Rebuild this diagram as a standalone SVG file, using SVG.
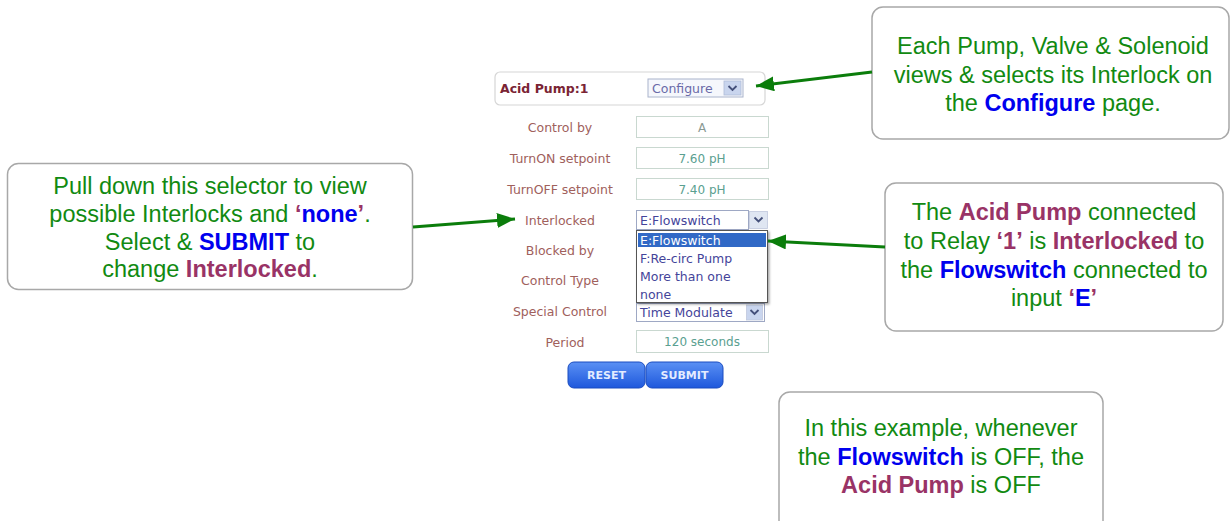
<svg xmlns="http://www.w3.org/2000/svg" width="1232" height="521" viewBox="0 0 1232 521">
  <style>
    .note { fill: #ffffff; stroke: #a8a8a8; stroke-width: 1.5; }
    .nt { font-family: "Liberation Sans", Arial, sans-serif; font-size: 23.5px; fill: #118a11; text-anchor: middle; }
    .b { font-weight: bold; fill: #0000ee; }
    .m { font-weight: bold; fill: #993366; }
    .lbl { font-family: "DejaVu Sans", Verdana, sans-serif; font-size: 12.5px; fill: #a0605c; text-anchor: middle; }
    .fld { fill: #ffffff; stroke: #c9d8d0; stroke-width: 1; }
    .val { font-family: "DejaVu Sans", Verdana, sans-serif; font-size: 12px; fill: #5aa090; text-anchor: middle; }
    .opt { font-family: "DejaVu Sans", Verdana, sans-serif; font-size: 12.5px; fill: #44449a; }
    .sel { fill: #ffffff; stroke: #9ea8c4; stroke-width: 1; }
    .selbtn { fill: #dfe6f2; stroke: #c0c8dc; stroke-width: 0.8; }
    .chev { fill: none; stroke: #44507a; stroke-width: 1.8; }
    .btn { fill: url(#btnGrad); stroke: #1a4cc0; stroke-width: 1; }
    .btxt { font-family: "DejaVu Sans", Verdana, sans-serif; font-size: 11px; font-weight: bold; fill: #e4ecff; text-anchor: middle; }
    .conn { stroke: #0b7d0b; stroke-width: 3; fill: none; marker-end: url(#head); }
  </style>
  <defs>
    <marker id="head" markerUnits="userSpaceOnUse" markerWidth="19" markerHeight="15" refX="18" refY="7.5" orient="auto">
      <path d="M0,0 L18,7.5 L0,15 z" fill="#0b7d0b"/>
    </marker>
    <linearGradient id="btnGrad" x1="0" y1="0" x2="0" y2="1">
      <stop offset="0" stop-color="#5a90f4"/>
      <stop offset="1" stop-color="#1e58dc"/>
    </linearGradient>
    <filter id="shadow" x="-5%" y="-5%" width="115%" height="120%">
      <feDropShadow dx="1.5" dy="1.5" stdDeviation="1" flood-color="#000000" flood-opacity="0.35"/>
    </filter>
  </defs>

  <rect width="1232" height="521" fill="#ffffff"/>

  <!-- Relay configuration panel -->
  <g id="panel">
    <g id="panel-header">
      <rect x="495" y="72" width="270" height="33" rx="5" fill="#ffffff" stroke="#d6d6d6" stroke-width="1.2"/>
      <text x="500" y="93" font-family="DejaVu Sans, Verdana, sans-serif" font-size="12.5" font-weight="bold" fill="#7a2434">Acid Pump:1</text>
      <rect x="648" y="79" width="95" height="18" fill="#f5f7fc" stroke="#aab4cc"/>
      <text x="652" y="93" class="opt" style="fill:#6a6aa8">Configure</text>
      <rect x="724" y="81" width="17" height="14" fill="#c9d5ee" stroke="#b0bcd8" stroke-width="0.8"/>
      <path class="chev" d="M728.5,86 L732.5,90 L736.5,86"/>
    </g>

    <g id="row-control-by">
      <text class="lbl" x="560" y="132">Control by</text>
      <rect class="fld" x="636.5" y="116.5" width="132" height="21"/>
      <text class="val" x="702" y="131.5" style="fill:#8a9a94">A</text>
    </g>
    <g id="row-turnon">
      <text class="lbl" x="560" y="163">TurnON setpoint</text>
      <rect class="fld" x="636.5" y="147.5" width="132" height="21"/>
      <text class="val" x="702" y="162.5">7.60 pH</text>
    </g>
    <g id="row-turnoff">
      <text class="lbl" x="560" y="194">TurnOFF setpoint</text>
      <rect class="fld" x="636.5" y="178.5" width="132" height="21"/>
      <text class="val" x="702" y="193.5">7.40 pH</text>
    </g>
    <g id="row-interlocked">
      <text class="lbl" x="560" y="225">Interlocked</text>
      <rect class="sel" x="636.5" y="210.5" width="112" height="19"/>
      <text class="opt" x="640" y="224.5">E:Flowswitch</text>
      <rect class="selbtn" x="749.5" y="211.5" width="18" height="17"/>
      <path class="chev" d="M754.5,217.5 L758.5,221.5 L762.5,217.5"/>
    </g>
    <g id="row-blocked">
      <text class="lbl" x="560" y="255">Blocked by</text>
    </g>
    <g id="row-control-type">
      <text class="lbl" x="560" y="285">Control Type</text>
    </g>
    <g id="row-special">
      <text class="lbl" x="560" y="316">Special Control</text>
      <rect class="sel" x="636.5" y="303.5" width="128" height="18"/>
      <text class="opt" x="640" y="317">Time Modulate</text>
      <rect class="selbtn" x="746.5" y="305" width="16" height="15" style="fill:#c9d5ee"/>
      <path class="chev" d="M750.5,310 L754.5,314 L758.5,310"/>
    </g>
    <g id="row-period">
      <text class="lbl" x="565" y="347">Period</text>
      <rect class="fld" x="636.5" y="330.5" width="132" height="22"/>
      <text class="val" x="702" y="346">120 seconds</text>
    </g>

    <!-- open list of the Interlocked selector -->
    <g id="interlock-list">
      <rect x="636.5" y="230.5" width="131" height="72" fill="#ffffff" stroke="#555555" stroke-width="1" filter="url(#shadow)"/>
      <rect x="638" y="233" width="128" height="14" fill="#3169c6"/>
      <text class="opt" x="640" y="244.5" style="fill:#ffffff">E:Flowswitch</text>
      <text class="opt" x="640" y="262.5">F:Re-circ Pump</text>
      <text class="opt" x="640" y="280.5">More than one</text>
      <text class="opt" x="640" y="298.5">none</text>
    </g>

    <g id="btn-reset">
      <rect class="btn" x="568" y="362" width="77" height="26" rx="6"/>
      <text class="btxt" x="606.5" y="379">RESET</text>
    </g>
    <g id="btn-submit">
      <rect class="btn" x="646" y="362" width="77" height="26" rx="6"/>
      <text class="btxt" x="684.5" y="379">SUBMIT</text>
    </g>
  </g>

  <!-- Callout notes -->
  <g id="note-configure">
    <rect class="note" x="872" y="7" width="357" height="132" rx="11"/>
    <text class="nt" x="1053" y="54">Each Pump, Valve &amp; Solenoid</text>
    <text class="nt" x="1053" y="82.5">views &amp; selects its Interlock on</text>
    <text class="nt" x="1053" y="111">the <tspan class="b">Configure</tspan> page.</text>
  </g>

  <g id="note-selector">
    <rect class="note" x="7.5" y="163.5" width="405" height="126" rx="11"/>
    <text class="nt" x="210" y="194">Pull down this selector to view</text>
    <text class="nt" x="210" y="221.5">possible Interlocks and <tspan class="m">‘</tspan><tspan class="b">none</tspan><tspan class="m">’</tspan>.</text>
    <text class="nt" x="210" y="249.5">Select &amp; <tspan class="b">SUBMIT</tspan> to</text>
    <text class="nt" x="210" y="277">change <tspan class="m">Interlocked</tspan>.</text>
  </g>

  <g id="note-relay">
    <rect class="note" x="885" y="183" width="338" height="148" rx="11"/>
    <text class="nt" x="1054" y="220">The <tspan class="m">Acid Pump</tspan> connected</text>
    <text class="nt" x="1054" y="249">to Relay <tspan class="m">‘1’</tspan> is <tspan class="m">Interlocked</tspan> to</text>
    <text class="nt" x="1054" y="277.5">the <tspan class="b">Flowswitch</tspan> connected to</text>
    <text class="nt" x="1054" y="306">input <tspan class="m">‘</tspan><tspan class="b">E</tspan><tspan class="m">’</tspan></text>
  </g>

  <g id="note-example">
    <rect class="note" x="779" y="392" width="324" height="150" rx="11"/>
    <text class="nt" x="941" y="436">In this example, whenever</text>
    <text class="nt" x="941" y="465">the <tspan class="b">Flowswitch</tspan> is OFF, the</text>
    <text class="nt" x="941" y="493"><tspan class="m">Acid Pump</tspan> is OFF</text>
  </g>

  <!-- Connectors -->
  <g id="connectors">
    <line class="conn" x1="872" y1="72" x2="756" y2="86"/>
    <line class="conn" x1="413" y1="227" x2="515" y2="219"/>
    <line class="conn" x1="885" y1="247" x2="768" y2="241"/>
  </g>
</svg>
